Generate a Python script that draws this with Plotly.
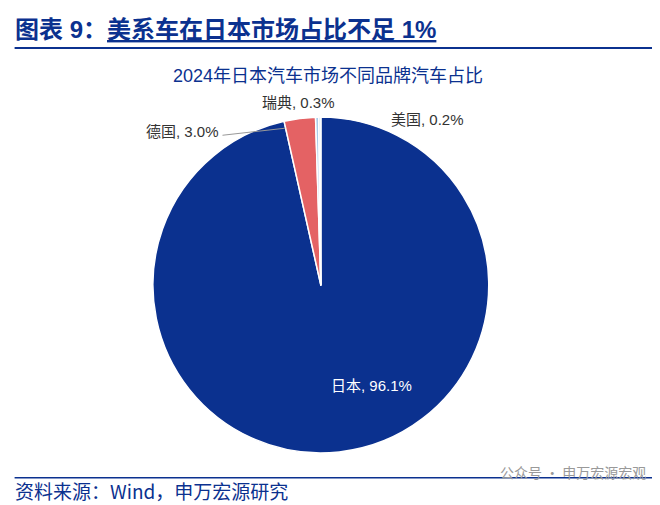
import plotly.graph_objects as go

brands = ["日本", "德国", "瑞典", "美国"]
shares = [96.1, 3.0, 0.3, 0.2]
colors = ["#0B318F", "#E46264", "#A9CBEA", "#D5E6F5"]

fig = go.Figure(go.Pie(
    labels=brands, values=shares, sort=False, direction="clockwise", rotation=0,
    marker=dict(colors=colors, line=dict(color="white", width=1.5)),
    textinfo="none", hoverinfo="label+percent", showlegend=False,
    domain=dict(x=[0.219, 0.729], y=[0.119, 0.784]),
))

F = "Liberation Sans, Noto Sans CJK SC"
ann = [
    dict(x=0.008, y=0.958, text="<b>图表 9：<u>美系车在日本市场占比不足 1%</u></b>", font=dict(size=24, color="#0B318F"), xanchor="left", yanchor="middle"),
    dict(x=0.485, y=0.866, text="2024年日本汽车市场不同品牌汽车占比", font=dict(size=18, color="#0B318F"), xanchor="center", yanchor="middle"),
    dict(x=0.55, y=0.253, text=f"{brands[0]}, {shares[0]}%", font=dict(size=15, color="white")),
    dict(x=0.265, y=0.755, text=f"{brands[1]}, {shares[1]}%", font=dict(size=15, color="#333")),
    dict(x=0.44, y=0.813, text=f"{brands[2]}, {shares[2]}%", font=dict(size=15, color="#333")),
    dict(x=0.635, y=0.78, text=f"{brands[3]}, {shares[3]}%", font=dict(size=15, color="#333")),
    dict(x=0.008, y=0.045, text="资料来源：Wind，申万宏源研究", font=dict(size=19, color="#0B318F", family="Noto Sans CJK SC"), xanchor="left", yanchor="middle"),
    dict(x=0.97, y=0.082, text="公众号 · 申万宏源宏观", font=dict(size=14, color="#999", family="Noto Sans CJK SC"), xanchor="right", yanchor="middle"),
]
for a in ann:
    a.setdefault("xanchor", "center"); a.setdefault("yanchor", "middle")
    a.update(xref="paper", yref="paper", showarrow=False)

fig.update_layout(
    width=660, height=505, margin=dict(l=0, r=0, t=0, b=0),
    paper_bgcolor="white", font=dict(family=F), annotations=ann,
    shapes=[
        dict(type="line", xref="paper", yref="paper", x0=0.01, x1=0.99, y0=0.921, y1=0.921, line=dict(color="#0B318F", width=2)),
        dict(type="line", xref="paper", yref="paper", x0=0.01, x1=0.99, y0=0.07, y1=0.07, line=dict(color="#0B318F", width=1.5)),
        dict(type="line", xref="paper", yref="paper", x0=0.325, x1=0.42, y0=0.748, y1=0.762, line=dict(color="#999", width=1)),
    ],
)
fig.write_html("out.html")
